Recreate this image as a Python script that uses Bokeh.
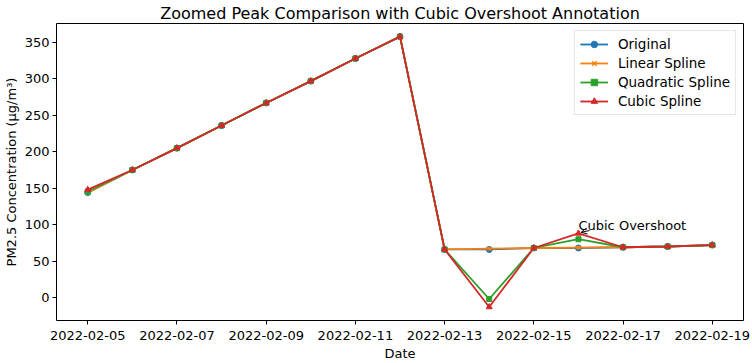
from datetime import datetime, timedelta
from bokeh.plotting import figure
from bokeh.models import FixedTicker, DatetimeTickFormatter, Label, Arrow, OpenHead, Range1d
from bokeh.embed import file_html
from bokeh.resources import INLINE

dates = [datetime(2022, 2, 5) + timedelta(days=i) for i in range(15)]
original = [144, 175, 205, 236, 267, 297, 328, 358, 66, 66, 68, 68, 69, 70, 72]
linear = [144, 175, 205, 236, 267, 297, 328, 358, 66, 67, 68, 68.5, 69, 70, 72]
quadratic = [145.5, 175, 205, 236, 267, 297, 328, 358, 66, -2, 68, 80, 69, 70, 72]
cubic = [148, 175, 205, 236, 267, 297, 328, 358, 66, -13, 68, 88, 69, 70, 72]
tick_dates = ["2022-02-05", "2022-02-07", "2022-02-09", "2022-02-11",
              "2022-02-13", "2022-02-15", "2022-02-17", "2022-02-19"]
y_ticks = [0, 50, 100, 150, 200, 250, 300, 350]

FONT = "DejaVu Sans"
DAY = 86400000.0

p = figure(width=752, height=363, x_axis_type="datetime", output_backend="svg",
           toolbar_location=None, title="Zoomed Peak Comparison with Cubic Overshoot Annotation",
           min_border_left=10, min_border_right=9, min_border_top=0, min_border_bottom=0)

start = datetime(2022, 2, 5)
p.x_range = Range1d(start - timedelta(hours=0.7 * 24), start + timedelta(hours=14.7 * 24))
p.y_range = Range1d(-31.5, 376)

p.title.text_font = FONT
p.title.text_font_size = "16px"
p.title.text_font_style = "normal"
p.title.align = "center"
p.title.text_color = "black"
p.title.standoff = 2
p.title.offset = 0

p.xgrid.visible = False
p.ygrid.visible = False
p.outline_line_color = "black"
p.outline_line_width = 1

tick_ms = [datetime.strptime(t, "%Y-%m-%d").timestamp() * 1000 for t in tick_dates]
p.xaxis.ticker = FixedTicker(ticks=tick_ms)
p.xaxis.formatter = DatetimeTickFormatter(days="%Y-%m-%d", months="%Y-%m-%d", hours="%Y-%m-%d")
p.yaxis.ticker = FixedTicker(ticks=y_ticks)
for ax in (p.xaxis[0], p.yaxis[0]):
    ax.axis_label_text_font = FONT
    ax.axis_label_text_font_size = "13px"
    ax.axis_label_text_font_style = "normal"
    ax.axis_label_text_color = "black"
    ax.major_label_text_font = FONT
    ax.major_label_text_font_size = "13px"
    ax.major_label_text_color = "black"
    ax.major_tick_out = 4
    ax.major_tick_in = 0
    ax.major_tick_line_color = "black"
    ax.minor_tick_out = 0
    ax.minor_tick_in = 0
    ax.axis_line_color = None
p.xaxis.axis_label = "Date"
p.yaxis.axis_label = "PM2.5 Concentration (µg/m³)"
p.xaxis.axis_label_standoff = 3
p.yaxis.axis_label_standoff = 3
p.xaxis.major_label_standoff = 6
p.yaxis.major_label_standoff = 3

series = [
    ("Original", original, "#1f77b4", "circle", 6),
    ("Linear Spline", linear, "#ff7f0e", "x", 5),
    ("Quadratic Spline", quadratic, "#2ca02c", "square", 5),
    ("Cubic Spline", cubic, "#d62728", "triangle", 6),
]
for name, vals, color, marker, sz in series:
    p.line(dates, vals, line_color=color, line_width=1.8, legend_label=name)
    p.scatter(dates, vals, marker=marker, size=sz, fill_color=color, line_color=color,
              line_width=1.5 if marker == "x" else 1, legend_label=name)

ann_x = datetime(2022, 2, 16).timestamp() * 1000
p.add_layout(Label(x=ann_x, y=99, text="Cubic Overshoot", text_font=FONT,
                   text_font_size="13px", text_baseline="alphabetic", text_color="black"))
p.add_layout(Arrow(end=OpenHead(size=6, line_width=1, line_color="black"),
                   x_start=ann_x + 0.25 * DAY, y_start=92, x_end=ann_x + 0.06 * DAY, y_end=89.5,
                   line_color="black", line_width=1))

p.legend.location = "top_right"
p.legend.label_text_font = FONT
p.legend.label_text_font_size = "13.5px"
p.legend.label_text_color = "black"
p.legend.border_line_color = "#cccccc"
p.legend.border_line_width = 1
p.legend.background_fill_alpha = 0.8
p.legend.glyph_width = 28
p.legend.glyph_height = 16
p.legend.label_height = 16
p.legend.label_standoff = 10
p.legend.spacing = 3
p.legend.padding = 5
p.legend.margin = 7

open("out.html", "w").write(file_html(p, INLINE))
